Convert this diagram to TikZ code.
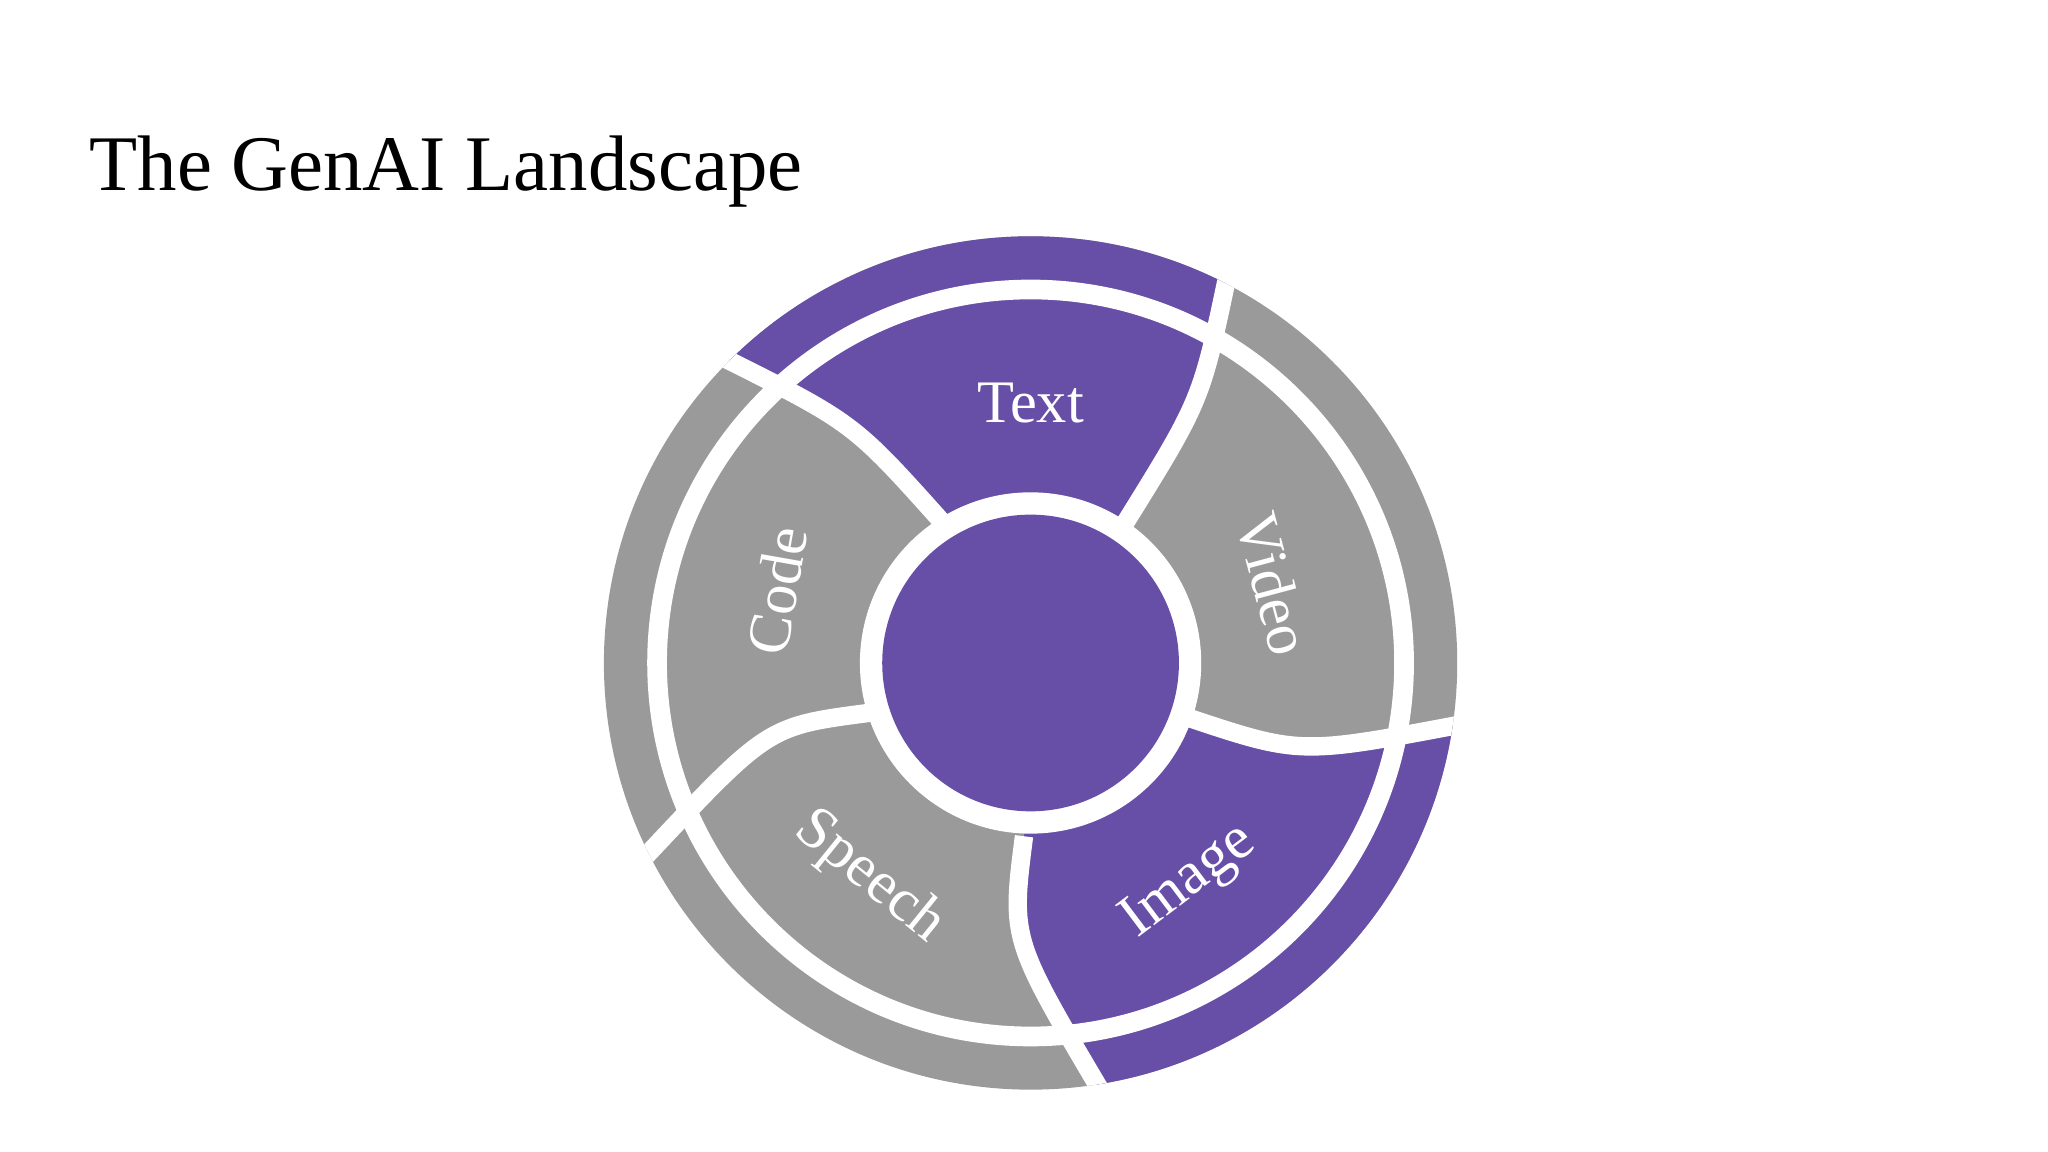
\documentclass[tikz,border=0pt]{standalone}
\usepackage{fontspec}
\setmainfont{Liberation Serif}
\definecolor{pur}{RGB}{103,78,167}
\definecolor{gr}{RGB}{154,154,154}
\begin{document}
\begin{tikzpicture}[x=1pt,y=-1pt,
  divider/.style={draw=white,line width=14pt},
  lbl/.style={text=white,font=\fontsize{46}{50}\selectfont,inner sep=0pt}]
\useasboundingbox[fill=white] (0,0) rectangle (1560,877.5);
\node[anchor=base west,inner sep=0pt,font=\fontsize{60}{64}\selectfont] (title) at (68,145) {The GenAI Landscape};
\coordinate (c) at (785,505);
\begin{scope}
\clip (c) circle (325);
\fill[gr] (c) circle (330);
\fill[pur] (c) -- (718,398) .. controls (650,322) .. (550,272) -- (500,150) -- (1000,100) -- (935,210) .. controls (915,305) .. (856,400) -- cycle;
\fill[pur] (c) -- (903,546) .. controls (990,575) .. (1112,552) -- (1250,600) -- (900,950) -- (838,830) .. controls (770,715) .. (780,637) -- cycle;
\draw[divider] (718,398) .. controls (650,322) .. (550,272);
\draw[divider] (856,400) .. controls (915,305) .. (935,210);
\draw[divider] (903,546) .. controls (990,575) .. (1112,552);
\draw[divider] (780,637) .. controls (770,715) .. (838,830);
\draw[divider] (662,543) .. controls (585,553) .. (492,652);
\draw[white,line width=15pt] (c) circle (284.5);
\end{scope}
\fill[white] (c) circle (130);
\node[circle,fill=pur,minimum size=226pt,inner sep=0pt] (hub) at (c) {};
\node[lbl] (t) at (785,307) {Text};
\node[lbl,rotate=80] (cd) at (592,450) {Code};
\node[lbl,rotate=-75] (v) at (970,445) {Video};
\node[lbl,rotate=-39] (s) at (662,668) {Speech};
\node[lbl,rotate=37] (im) at (906,672) {Image};
\end{tikzpicture}
\end{document}
